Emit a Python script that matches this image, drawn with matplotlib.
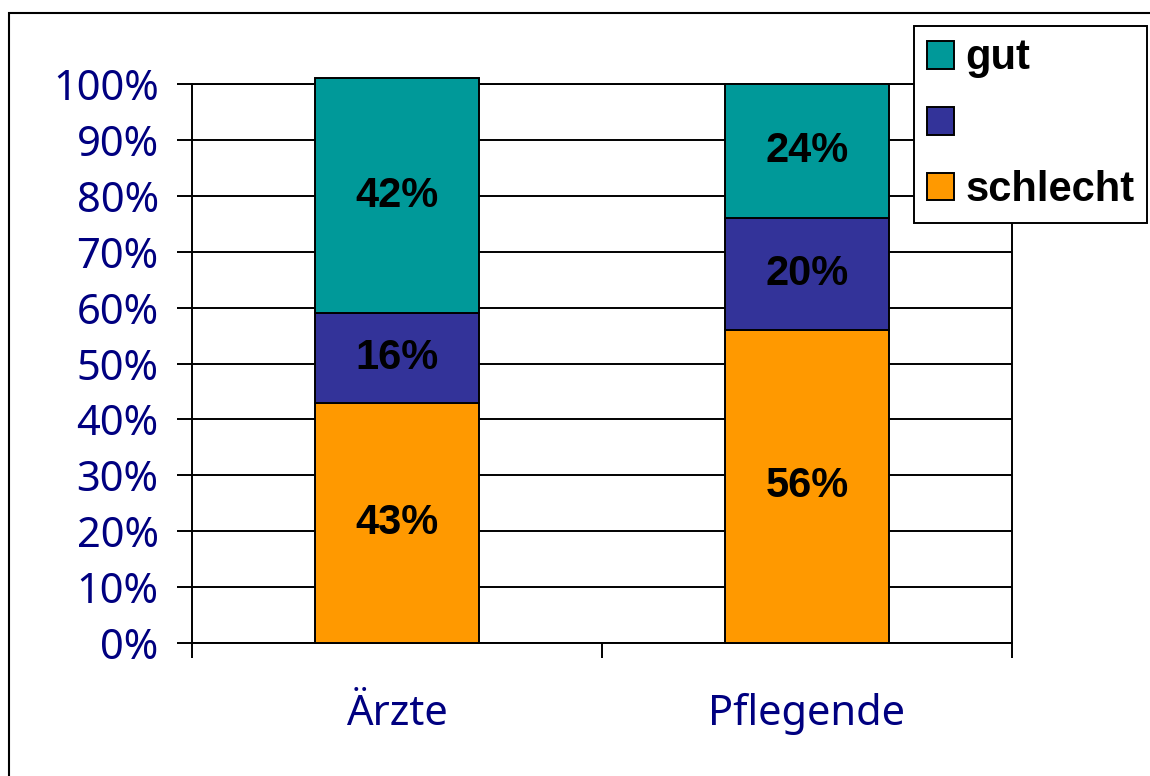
import matplotlib.pyplot as plt
from matplotlib.patches import Rectangle
import numpy as np

# ------------------------------- Donnees ----------------------------------- #

categories = ["Ärzte", "Pflegende"]
schlecht = [43, 56]
mittel = [16, 20]
gut = [42, 24]
labels_legende = ["gut", "", "schlecht"]
yticks = list(range(0, 101, 10))

# ------------------------------- Couleurs ---------------------------------- #

C_GUT = "#009999"
C_MITTEL = "#333399"
C_SCHLECHT = "#FF9900"
NAVY = "#000080"

# --------------------------------------------------------------------------- #

fig = plt.figure(figsize=(11.5, 7.76), dpi=100)
ax = fig.add_axes([192 / 1150, 1 - 643 / 776, (1012 - 192) / 1150, (643 - 84) / 776])

x = np.arange(len(categories))
largeur = 0.4
bas = np.zeros(len(categories))
barres = []
for valeurs, couleur in [(schlecht, C_SCHLECHT), (mittel, C_MITTEL), (gut, C_GUT)]:
    b = ax.bar(x, valeurs, largeur, bottom=bas, color=couleur, edgecolor="black",
               linewidth=1.4, zorder=3, clip_on=False)
    for xi, v, b0 in zip(x, valeurs, bas):
        ax.text(xi, b0 + v / 2, "{}%".format(v), ha="center", va="center",
                fontsize=30, fontweight="bold", family="Liberation Sans", zorder=4)
    barres.append(b)
    bas = bas + np.array(valeurs)

ax.set_xlim(-0.5, 1.5)
ax.set_ylim(0, 100)

ax.set_yticks(yticks)
ax.set_yticklabels(["{}%".format(t) for t in yticks])
ax.yaxis.grid(True, color="black", linewidth=1.4, zorder=0)
ax.tick_params(axis="y", length=11, width=1.4, pad=13, labelsize=30,
               labelcolor=NAVY)

# ticks de categorie aux limites, etiquettes au centre
ax.set_xticks([-0.5, 0.5, 1.5], minor=True)
ax.set_xticks(x)
ax.set_xticklabels(categories)
ax.tick_params(axis="x", which="minor", length=11, width=1.4)
ax.tick_params(axis="x", which="major", length=0, pad=36, labelsize=30,
               labelcolor=NAVY)

for lab in ax.get_xticklabels() + ax.get_yticklabels():
    lab.set_family("Noto Sans")
    lab.set_fontweight("medium")

for s in ax.spines.values():
    s.set_linewidth(1.4)
    s.set_color("black")

# ------------------------------- Legende ----------------------------------- #

leg = fig.legend([barres[2], barres[1], barres[0]], labels_legende,
                 loc="upper left", bbox_to_anchor=(914 / 1150, 1 - 26 / 776),
                 borderaxespad=0, fancybox=False, framealpha=1,
                 edgecolor="black", prop={"family": "Liberation Sans",
                                          "weight": "bold", "size": 30},
                 handlelength=0.65, handleheight=0.65, handletextpad=0.28,
                 labelspacing=0.62, borderpad=0.3)
leg.get_frame().set_linewidth(1.4)

# cadre exterieur
fig.add_artist(Rectangle((9 / 1150, -0.1), 1.2, 1.1 - 13 / 776, fill=False,
                         edgecolor="black", linewidth=1.5,
                         transform=fig.transFigure))

fig.savefig("out.png", dpi=100)
